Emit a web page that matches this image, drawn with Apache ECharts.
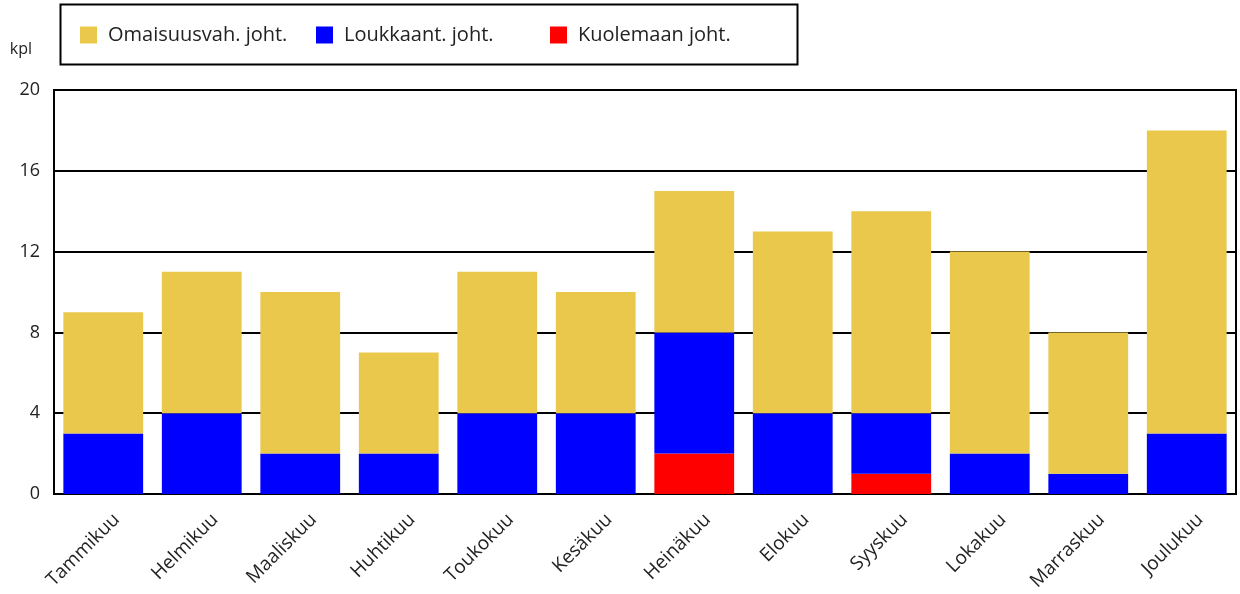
<!DOCTYPE html>
<html><head><meta charset="utf-8">
<script src="https://cdn.jsdelivr.net/npm/echarts@6/dist/echarts.min.js"></script>
<style>html,body{margin:0;padding:0;background:#fff}#c{width:1240px;height:594px}</style>
</head><body><div id="c"></div>
<script>
const categories = ['Tammikuu','Helmikuu','Maaliskuu','Huhtikuu','Toukokuu','Kesäkuu','Heinäkuu','Elokuu','Syyskuu','Lokakuu','Marraskuu','Joulukuu'];
const kuolemaan = [0,0,0,0,0,0,2,0,1,0,0,0];
const loukkaant = [3,4,2,2,4,4,6,4,3,2,1,3];
const omaisuus  = [6,7,8,5,7,6,7,9,10,10,7,15];
const yTicks = [0,4,8,12,16,20];
const names = ['Omaisuusvah. joht.','Loukkaant. joht.','Kuolemaan joht.'];

const font = '"Open Sans", "Noto Sans", sans-serif';
const legendLefts = [80, 316, 550];
const legends = names.map((n, i) => ({
  data:[n], left:legendLefts[i], top:5, orient:'horizontal',
  itemWidth:17, itemHeight:17, icon:'rect',
  padding:[20,0,20,0],
  textStyle:{fontSize:20, color:'#222', fontFamily:font, padding:[0,0,0,6]}
}));
const chart = echarts.init(document.getElementById('c'), null, {renderer:'canvas'});
chart.setOption({
  animation:false,
  textStyle:{fontFamily:font},
  legend:legends,
  graphic:[{type:'rect', left:58, top:2, shape:{width:737, height:60}, style:{fill:'none', stroke:'#000', lineWidth:2}, silent:true}],
  grid:{left:54, right:4, top:90, bottom:100, show:true, borderColor:'#000', borderWidth:2, containLabel:false},
  xAxis:{
    type:'category', data:categories,
    axisLine:{lineStyle:{color:'#000', width:2}},
    axisTick:{show:false},
    axisLabel:{rotate:45, fontSize:19, color:'#222', margin:36, padding:[0,-19,0,0], fontFamily:font}
  },
  yAxis:{
    type:'value', min:yTicks[0], max:yTicks[yTicks.length-1], interval:4,
    name:'kpl', nameLocation:'end', nameGap:33,
    nameTextStyle:{fontSize:16, color:'#222', align:'right', padding:[0,22,0,0], fontFamily:font},
    axisLine:{show:true, lineStyle:{color:'#000', width:2}},
    axisTick:{show:false},
    axisLabel:{fontSize:18, color:'#222', margin:14, fontFamily:font},
    splitLine:{lineStyle:{color:'#000', width:2}}
  },
  series:[
    {name:names[2], type:'bar', stack:'a', data:kuolemaan, itemStyle:{color:'#FF0000'}, barCategoryGap:'19%'},
    {name:names[1], type:'bar', stack:'a', data:loukkaant, itemStyle:{color:'#0000FF'}},
    {name:names[0], type:'bar', stack:'a', data:omaisuus, itemStyle:{color:'#E9C84B'}}
  ]
});
</script></body></html>
